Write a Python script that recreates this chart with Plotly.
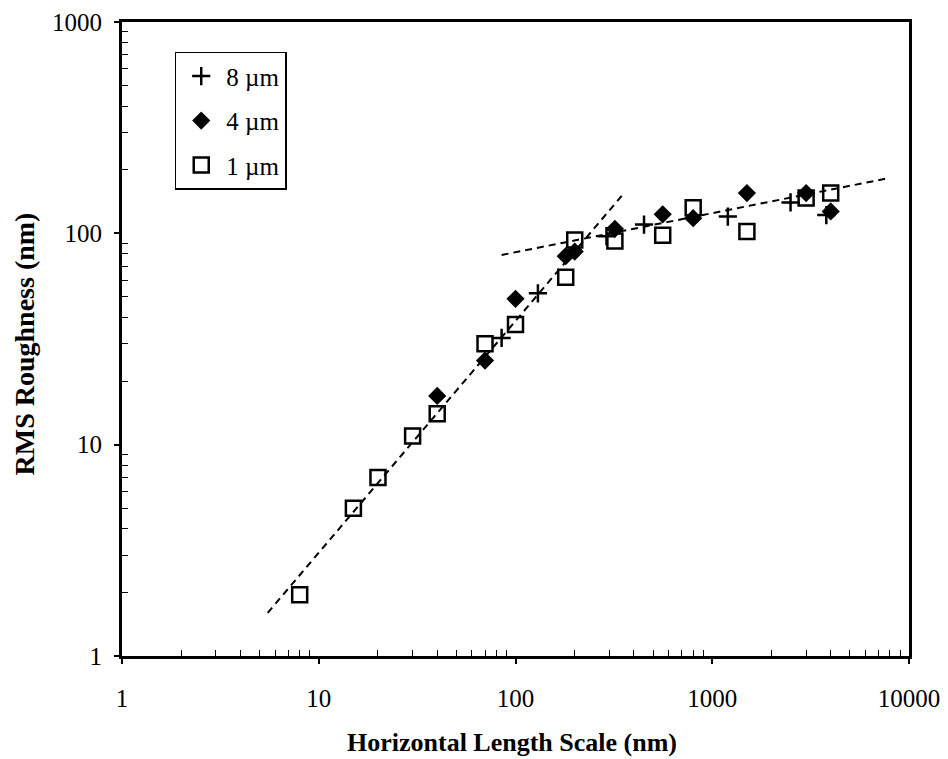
import plotly.graph_objects as go

# 8 um scan (plus markers)
x8 = [85, 130, 290, 450, 1200, 2500, 3800]
y8 = [32, 52, 97, 110, 120, 140, 122]

# 4 um scan (filled diamonds)
x4 = [40, 70, 100, 180, 200, 320, 560, 800, 1500, 3000, 4000]
y4 = [17, 25, 49, 78, 82, 105, 123, 118, 155, 155, 127]

# 1 um scan (open squares)
x1 = [8, 15, 20, 30, 40, 70, 100, 180, 200, 320, 560, 800, 1500, 3000, 4000]
y1 = [1.95, 5, 7, 11, 14, 30, 37, 62, 93, 92, 98, 132, 102, 147, 155]

# dashed fit lines (end points)
fit1_x = [5.5, 350]
fit1_y = [1.6, 152]
fit2_x = [85, 8000]
fit2_y = [79, 183]

x_ticks = [1, 10, 100, 1000, 10000]
y_ticks = [1, 10, 100, 1000]

fig = go.Figure()
for fx, fy in [(fit1_x, fit1_y), (fit2_x, fit2_y)]:
    fig.add_trace(go.Scatter(x=fx, y=fy, mode="lines", showlegend=False,
                             line=dict(color="black", width=2, dash="7px,5px")))

fig.add_trace(go.Scatter(x=x8, y=y8, mode="markers", name="8 µm", legendgroup="a",
                         marker=dict(symbol="cross-thin", size=13, color="black",
                                     line=dict(color="black", width=2.5))))
fig.add_trace(go.Scatter(x=x4, y=y4, mode="markers", name="4 µm", legendgroup="b",
                         marker=dict(symbol="diamond", size=14, color="black")))
fig.add_trace(go.Scatter(x=x1, y=y1, mode="markers", name="1 µm", legendgroup="c",
                         marker=dict(symbol="square-open", size=15, color="black",
                                     line=dict(color="black", width=2.5))))


def minor_vals(decades):
    return [m * 10 ** d for d in range(decades) for m in range(2, 10)]


font_serif = "Liberation Serif, Times New Roman, serif"
axis_common = dict(
    type="log", showgrid=False, zeroline=False, showline=True, mirror=True,
    automargin=False,
    linecolor="black", linewidth=3, ticks="outside", ticklen=5, tickwidth=1.5,
    tickcolor="black", tickfont=dict(family=font_serif, size=25, color="black"),
)

fig.update_layout(
    width=948, height=759,
    paper_bgcolor="white", plot_bgcolor="white",
    margin=dict(l=114, r=47, t=14, b=111),
    font=dict(family=font_serif, color="black"),
    xaxis=dict(axis_common, range=[0, 4], tickvals=x_ticks,
               ticktext=[str(v) for v in x_ticks], ticklabelstandoff=13,
               minor=dict(tickvals=minor_vals(4), ticks="inside", ticklen=6,
                          tickwidth=1, tickcolor="black", showgrid=False)),
    yaxis=dict(axis_common, range=[0, 3], tickvals=y_ticks,
               ticktext=[str(v) for v in y_ticks], ticklabelstandoff=7,
               minor=dict(tickvals=minor_vals(3), ticks="inside", ticklen=6,
                          tickwidth=1, tickcolor="black", showgrid=False)),
    legend=dict(x=0.067, y=0.953, xanchor="left", yanchor="top",
                bgcolor="white", bordercolor="black", borderwidth=1.5,
                font=dict(family=font_serif, size=25, color="black"),
                itemwidth=40, traceorder="grouped", tracegroupgap=9),
    annotations=[
        dict(text="<b>Horizontal Length Scale (nm)</b>", xref="paper", yref="paper",
             x=0.495, y=-0.137, xanchor="center", yanchor="middle", showarrow=False,
             font=dict(family=font_serif, size=26, color="black")),
        dict(text="<b>RMS Roughness (nm)</b>", xref="paper", yref="paper",
             x=-0.124, y=0.492, xanchor="center", yanchor="middle", showarrow=False,
             textangle=-90, font=dict(family=font_serif, size=28, color="black")),
    ],
)

fig.write_html("out.html")
